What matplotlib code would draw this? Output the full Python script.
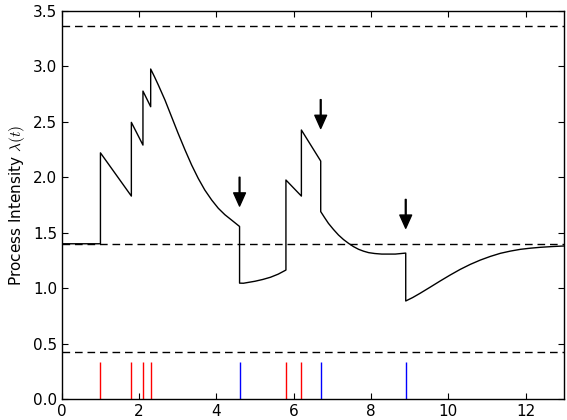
import matplotlib
matplotlib.use("Agg")
import matplotlib.pyplot as plt

# event times: excitatory (red) and inhibitory (blue)
t_excite = [1.0, 1.8, 2.1, 2.3, 5.8, 6.2]
t_inhibit = [4.6, 6.7, 8.9]

# intensity path, jumps are given as two points at the same time
t_curve = [0.0, 1.0, 1.0, 1.8, 1.8, 2.1, 2.1, 2.3, 2.3, 2.4, 2.5, 2.67, 2.84,
           3.01, 3.19, 3.36, 3.53, 3.70, 3.88, 4.05, 4.22, 4.40, 4.5, 4.6, 4.6,
           4.7, 4.8, 5.0, 5.2, 5.4, 5.6, 5.8, 5.8, 6.2, 6.2, 6.7, 6.7, 6.8, 6.9,
           7.03, 7.16, 7.29, 7.42, 7.55, 7.68, 7.81, 7.94, 8.1, 8.28, 8.63, 8.9,
           8.9, 9.08, 9.27, 9.53, 9.79, 10.05, 10.31, 10.57, 10.83, 11.09,
           11.35, 11.61, 11.87, 12.12, 12.38, 12.7, 13.0]
lam_curve = [1.4, 1.4, 2.22, 1.83, 2.495, 2.29, 2.777, 2.636, 2.976, 2.905,
             2.83, 2.696, 2.546, 2.396, 2.245, 2.11, 1.99, 1.885, 1.794, 1.72,
             1.662, 1.612, 1.584, 1.556, 1.045, 1.044, 1.05, 1.062, 1.078, 1.098,
             1.126, 1.163, 1.975, 1.83, 2.426, 2.146, 1.69, 1.636, 1.584, 1.529,
             1.479, 1.438, 1.404, 1.374, 1.35, 1.333, 1.32, 1.312, 1.307, 1.307,
             1.316, 0.884, 0.915, 0.953, 1.008, 1.064, 1.118, 1.169, 1.214,
             1.253, 1.286, 1.314, 1.334, 1.35, 1.36, 1.368, 1.375, 1.38]

# reference levels and arrow spans above the inhibitory events
levels = [3.36, 1.4, 0.42]
arrow_top = [2.0, 2.7, 1.8]
arrow_tip = [1.74, 2.44, 1.54]
event_height = 0.33

plt.rcParams["mathtext.fontset"] = "cm"
plt.rcParams["font.size"] = 11

fig = plt.figure(figsize=(5.67, 4.2), dpi=100)
ax = fig.add_axes([0.109, 0.05, 0.886, 0.924])

ax.plot(t_curve, lam_curve, color="black", lw=1.0)
for lev in levels:
    ax.axhline(lev, color="black", lw=1.0, dashes=(5.5, 3.5))

ax.vlines(t_excite, 0, event_height, colors="red", lw=1.0)
ax.vlines(t_inhibit, 0, event_height, colors="blue", lw=1.0)

for t, top, tip in zip(t_inhibit, arrow_top, arrow_tip):
    ax.annotate("", xy=(t, tip), xytext=(t, top),
                arrowprops=dict(facecolor="black", edgecolor="black",
                                width=0.6, headwidth=8.5, headlength=9.5,
                                shrink=0.0))

ax.set_xlim(0, 13)
ax.set_ylim(0, 3.5)
ax.set_xticks(range(0, 13, 2))
ax.set_yticks([i * 0.5 for i in range(8)])
ax.tick_params(direction="in", top=True, right=True, length=4, labelsize=11)
ax.set_ylabel(r"Process Intensity $\lambda(t)$", fontsize=11)
for sp in ax.spines.values():
    sp.set_linewidth(1.0)

fig.savefig("out.png", dpi=100)
